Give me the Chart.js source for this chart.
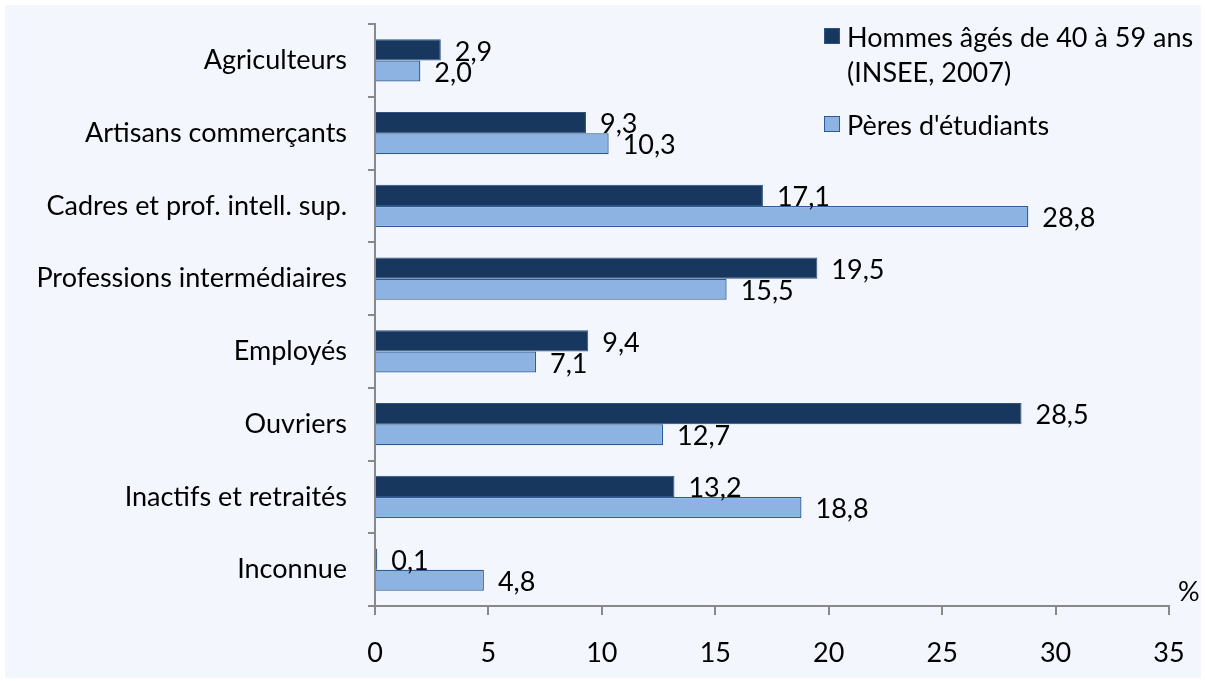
<!DOCTYPE html>
<html>
<head>
<meta charset="utf-8">
<script src="https://cdn.jsdelivr.net/npm/chart.js@4/dist/chart.umd.min.js"></script>
<style>
  html, body { margin: 0; padding: 0; background: #ffffff; }
  #wrap { position: relative; width: 1206px; height: 681px; }
  canvas { position: absolute; left: 0; top: 0; }
  .leg { position: absolute; font-family: Lato, "Open Sans", sans-serif; font-size: 27px; color: #000; line-height: 35px; white-space: nowrap; }
  .sw { position: absolute; width: 16px; height: 16px; box-sizing: border-box; border: 1px solid #2a4f80; }
</style>
</head>
<body>
<div id="wrap">
  <canvas id="c" width="1206" height="681"></canvas>
  <div class="sw" style="left:824px; top:28px; background:#17375e; border-color:#2d5283;"></div>
  <div class="leg" style="left:847px; top:19px;">Hommes âgés de 40 à 59 ans<br>(INSEE, 2007)</div>
  <div class="sw" style="left:824px; top:116px; background:#8db3e2; border-color:#2d5b94;"></div>
  <div class="leg" style="left:847px; top:107px;">Pères d'étudiants</div>
</div>
<script>
const categories = ["Agriculteurs", "Artisans commerçants", "Cadres et prof. intell. sup.", "Professions intermédiaires", "Employés", "Ouvriers", "Inactifs et retraités", "Inconnue"];
const hommesValues = [2.9, 9.3, 17.1, 19.5, 9.4, 28.5, 13.2, 0.1];
const peresValues = [2.0, 10.3, 28.8, 15.5, 7.1, 12.7, 18.8, 4.8];
const seriesNames = ["Hommes âgés de 40 à 59 ans (INSEE, 2007)", "Pères d'étudiants"];
const xTicks = [0, 5, 10, 15, 20, 25, 30, 35];

const FONT = 'Lato, "Open Sans", sans-serif';
const FS = 27;

const bgPlugin = {
  id: 'bg',
  beforeDraw(chart) {
    const ctx = chart.ctx;
    ctx.save();
    ctx.fillStyle = '#f3f7fd';
    ctx.fillRect(5, 5, 1196, 673);
    ctx.restore();
  }
};

const labelPlugin = {
  id: 'vals',
  afterDatasetsDraw(chart) {
    const ctx = chart.ctx;
    ctx.save();
    ctx.font = FS + 'px ' + FONT;
    ctx.fillStyle = '#000';
    ctx.textAlign = 'left';
    ctx.textBaseline = 'middle';
    chart.data.datasets.forEach((ds, di) => {
      chart.getDatasetMeta(di).data.forEach((bar, i) => {
        const txt = ds.data[i].toFixed(1).replace('.', ',');
        ctx.fillText(txt, bar.x + 14, bar.y + 2);
      });
    });
    ctx.fillText('%', 1178, 592);
    ctx.restore();
  }
};

new Chart(document.getElementById('c'), {
  type: 'bar',
  data: {
    labels: categories,
    datasets: [
      { label: seriesNames[0], data: hommesValues, backgroundColor: '#17375e', borderColor: '#2d5283', borderWidth: 1, borderSkipped: 'left' },
      { label: seriesNames[1], data: peresValues, backgroundColor: '#8db3e2', borderColor: '#2d5b94', borderWidth: 1.3, borderSkipped: 'left' }
    ]
  },
  options: {
    indexAxis: 'y',
    responsive: false,
    animation: false,
    devicePixelRatio: 1,
    layout: { padding: { left: 0, top: 24, right: 37, bottom: 0 } },
    datasets: { bar: { categoryPercentage: 0.58, barPercentage: 1.0 } },
    plugins: { legend: { display: false }, tooltip: { enabled: false } },
    scales: {
      x: {
        min: 0, max: 35,
        afterBuildTicks(scale) { scale.ticks = xTicks.map(v => ({ value: v })); },
        ticks: { font: { family: FONT, size: FS }, color: '#000', padding: 22, maxRotation: 0 },
        grid: { drawOnChartArea: false, drawTicks: true, tickLength: 9, color: '#898989', lineWidth: 2 },
        border: { display: true, color: '#898989', width: 2 },
        afterFit(scale) { scale.height = 75; scale.paddingLeft = 0; scale.paddingRight = 0; }
      },
      y: {
        ticks: { font: { family: FONT, size: FS }, color: '#000', padding: 21 },
        grid: { drawOnChartArea: false, drawTicks: true, tickLength: 7, color: '#898989', lineWidth: 2, offset: true },
        border: { display: true, color: '#898989', width: 2 },
        afterFit(scale) { scale.width = 375; scale.paddingTop = 0; scale.paddingBottom = 0; }
      }
    }
  },
  plugins: [bgPlugin, labelPlugin]
});
</script>
</body>
</html>
